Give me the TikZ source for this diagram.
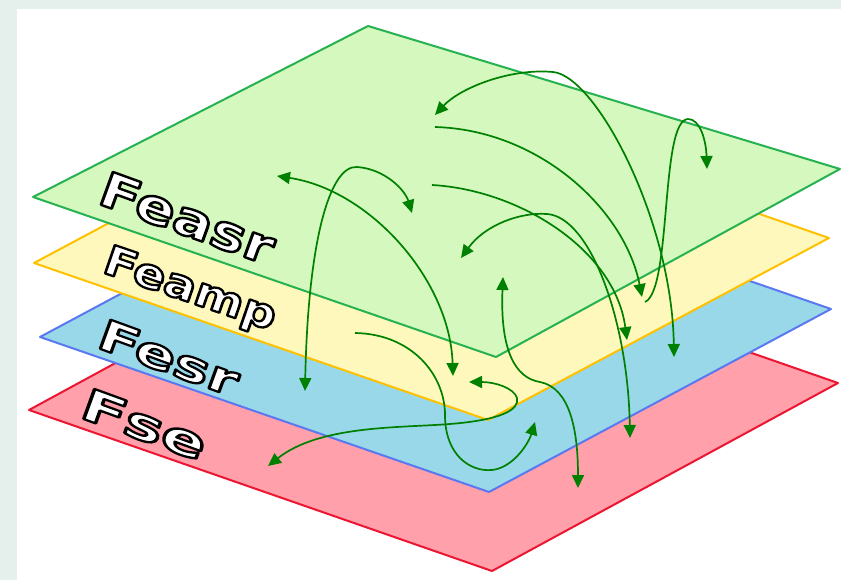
\documentclass[tikz,border=0pt]{standalone}
\usepackage{graphicx}
\usepackage{fontspec}
\newfontfamily\lblfont{DejaVu Sans}
\usetikzlibrary{arrows.meta}
\definecolor{bordercol}{RGB}{229,239,236}
\definecolor{gfill}{RGB}{212,248,190}
\definecolor{gline}{RGB}{38,178,80}
\definecolor{yfill}{RGB}{255,248,188}
\definecolor{yline}{RGB}{255,192,0}
\definecolor{bfill}{RGB}{153,216,233}
\definecolor{bline}{RGB}{90,120,240}
\definecolor{rfill}{RGB}{255,160,170}
\definecolor{rline}{RGB}{236,22,50}
\definecolor{arrowgreen}{RGB}{0,128,0}
\tikzset{
  layer/.style={line width=2pt, line join=round},
  lbl/.style={anchor=base west, inner sep=0pt, outer sep=0pt, font=\lblfont\bfseries, text=white},
  link/.style={draw=arrowgreen, line width=1.7pt},
  >={Triangle[length=13pt,width=12pt]}
}
% white text with a black outline (fill then stroke, PDF text render mode 2)
\newcommand\outlinetext[2]{\special{pdf:literal direct 2 Tr #1 w 1 j 0 0 0 RG}#2\special{pdf:literal direct 0 Tr}}
\begin{document}
\begin{tikzpicture}[x=1pt,y=-1pt]
\useasboundingbox (0,0) rectangle (841,580);
\fill[bordercol] (0,0) rectangle (841,580);
\fill[white] (17,9) rectangle (841,580);
% layers
\path[layer, fill=rfill, draw=rline] (29,410) -- (375,222) -- (838,383) -- (492,571) -- cycle;
\path[layer, fill=bfill, draw=bline] (40,337) -- (382,154) -- (831,309) -- (489,492) -- cycle;
\path[layer, fill=yfill, draw=yline] (34,263) -- (375,81) -- (829,238) -- (488,420) -- cycle;
\path[layer, fill=gfill, draw=gline] (33,197) -- (368,26) -- (840,169) -- (496,357) -- cycle;
% labels
\node[lbl, rotate=-20] (feasr) at (96,203) {\resizebox{182pt}{35pt}{\outlinetext{0.5}{Feasr}}};
\node[lbl, rotate=-19] (feamp) at (101,272) {\resizebox{180pt}{30pt}{\outlinetext{0.55}{Feamp}}};
\node[lbl, rotate=-20] (fesr) at (95,347) {\resizebox{146pt}{31pt}{\outlinetext{0.52}{Fesr}}};
\node[lbl, rotate=-20] (fse) at (78,417) {\resizebox{130pt}{32pt}{\outlinetext{0.52}{Fse}}};
% endpoints
\coordinate (a1) at (435,115); \coordinate (a2) at (674,357);
\coordinate (b1) at (435,127); \coordinate (b2) at (642,297);
\coordinate (c1) at (645,302); \coordinate (c2) at (707,169);
\coordinate (d1) at (277,176); \coordinate (d2) at (453,376);
\coordinate (e1) at (305,391); \coordinate (e2) at (412,213);
\coordinate (f1) at (432,185); \coordinate (f2) at (627,340);
\coordinate (g1) at (461,258); \coordinate (g2) at (630,438);
\coordinate (h1) at (503,277); \coordinate (h2) at (578,488);
\coordinate (i1) at (355,333); \coordinate (i2) at (535,422);
\coordinate (j1) at (268,466); \coordinate (j2) at (469,382);
% connectors
\draw[link,<->] (a1) .. controls (460,88) and (510,68) .. (553,72) .. controls (596,76) and (672,220) .. (a2);
\draw[link,->] (b1) .. controls (540,130) and (625,210) .. (b2);
\draw[link,->] (c1) .. controls (672,290) and (660,120) .. (688,119) .. controls (700,119) and (706,140) .. (c2);
\draw[link,<->] (d1) .. controls (370,190) and (450,280) .. (d2);
\draw[link,<->] (e1) .. controls (308,240) and (330,165) .. (357,167) .. controls (385,169) and (405,190) .. (e2);
\draw[link,->] (f1) .. controls (520,190) and (615,250) .. (f2);
\draw[link,<->] (g1) .. controls (485,225) and (520,212) .. (547,214) .. controls (590,217) and (628,320) .. (g2);
\draw[link,<->] (h1) .. controls (500,350) and (515,378) .. (540,382) .. controls (570,388) and (578,430) .. (h2);
\draw[link,->] (i1) .. controls (412,334) and (445,375) .. (445,415) .. controls (445,455) and (470,472) .. (492,470) .. controls (512,468) and (528,445) .. (i2);
\draw[link,<->] (j1) .. controls (320,425) and (400,428) .. (450,424) .. controls (500,420) and (520,410) .. (517,398) .. controls (514,388) and (495,382) .. (j2);
\end{tikzpicture}
\end{document}
